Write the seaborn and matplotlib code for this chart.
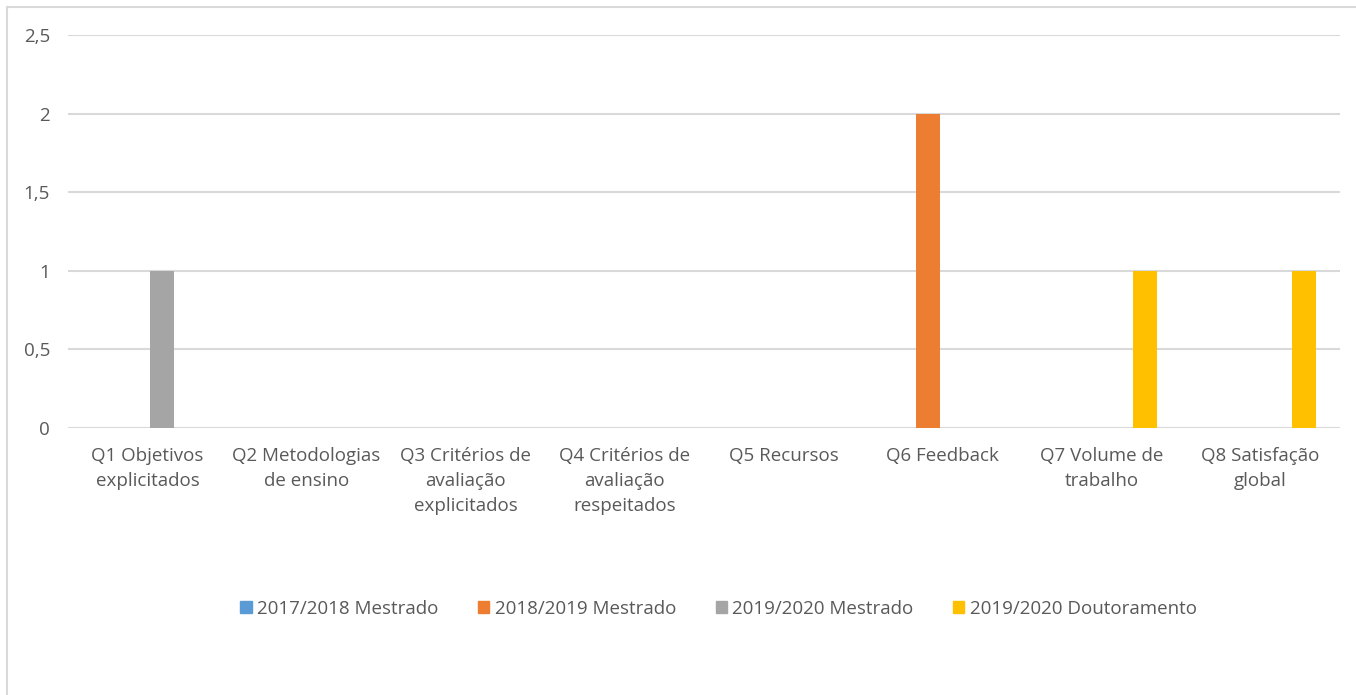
import pandas as pd
import matplotlib.pyplot as plt
import seaborn as sns
from matplotlib.patches import Rectangle

# Data
categories = ['Q1 Objetivos\nexplicitados', 'Q2 Metodologias\nde ensino',
              'Q3 Critérios de\navaliação\nexplicitados', 'Q4 Critérios de\navaliação\nrespeitados',
              'Q5 Recursos', 'Q6 Feedback', 'Q7 Volume de\ntrabalho', 'Q8 Satisfação\nglobal']
series = ['2017/2018 Mestrado', '2018/2019 Mestrado', '2019/2020 Mestrado', '2019/2020 Doutoramento']
v_1718_mest = [0, 0, 0, 0, 0, 0, 0, 0]
v_1819_mest = [0, 0, 0, 0, 0, 2, 0, 0]
v_1920_mest = [1, 0, 0, 0, 0, 0, 0, 0]
v_1920_dout = [0, 0, 0, 0, 0, 0, 1, 1]
colors = ['#5B9BD5', '#ED7D31', '#A5A5A5', '#FFC000']
yticks = [0, 0.5, 1, 1.5, 2, 2.5]

rows = []
for s, vals in zip(series, [v_1718_mest, v_1819_mest, v_1920_mest, v_1920_dout]):
    for c, v in zip(categories, vals):
        rows.append({'Questão': c, 'Série': s, 'Valor': v})
df = pd.DataFrame(rows)

sns.set_style('white')
plt.rcParams['font.family'] = ['Open Sans', 'DejaVu Sans']

fig = plt.figure(figsize=(13.56, 6.95), dpi=100)
ax = fig.add_axes([0.0501, 0.3842, 0.938, 0.5654])

sns.barplot(data=df, x='Questão', y='Valor', hue='Série', order=categories, hue_order=series,
            palette=colors, width=0.73, gap=0.19, linewidth=0, saturation=1, ax=ax, legend=False)

ax.set_ylim(0, 2.5)
ax.set_xlim(-0.5, len(categories) - 0.5)
ax.set_yticks(yticks)
ax.set_yticklabels([f'{t:g}'.replace('.', ',') for t in yticks])
ax.grid(axis='y', color='#D9D9D9', linewidth=1.5)
ax.set_axisbelow(True)
for sp in ax.spines.values():
    sp.set_visible(False)
ax.tick_params(axis='both', length=0, labelsize=13.5, labelcolor='#595959')
ax.tick_params(axis='x', pad=14)
ax.tick_params(axis='y', pad=13)
for lbl in ax.get_xticklabels():
    lbl.set_linespacing(1.5)
ax.set_xlabel('')
ax.set_ylabel('')

handles = [Rectangle((0, 0), 1, 1, color=c) for c in colors]
fig.legend(handles, series, loc='center', bbox_to_anchor=(0.530, 0.124), ncol=4, frameon=False,
           handlelength=0.6, handleheight=0.6, handletextpad=0.3, columnspacing=2.1,
           prop={'size': 13.5}, labelcolor='#595959')

# outer chart border
fig.patches.append(Rectangle((7 / 1356, -0.01), 1.02, 1 - 7 / 695 + 0.01, transform=fig.transFigure,
                             fill=False, edgecolor='#D9D9D9', linewidth=1.5))

fig.savefig('out.png', dpi=100)
